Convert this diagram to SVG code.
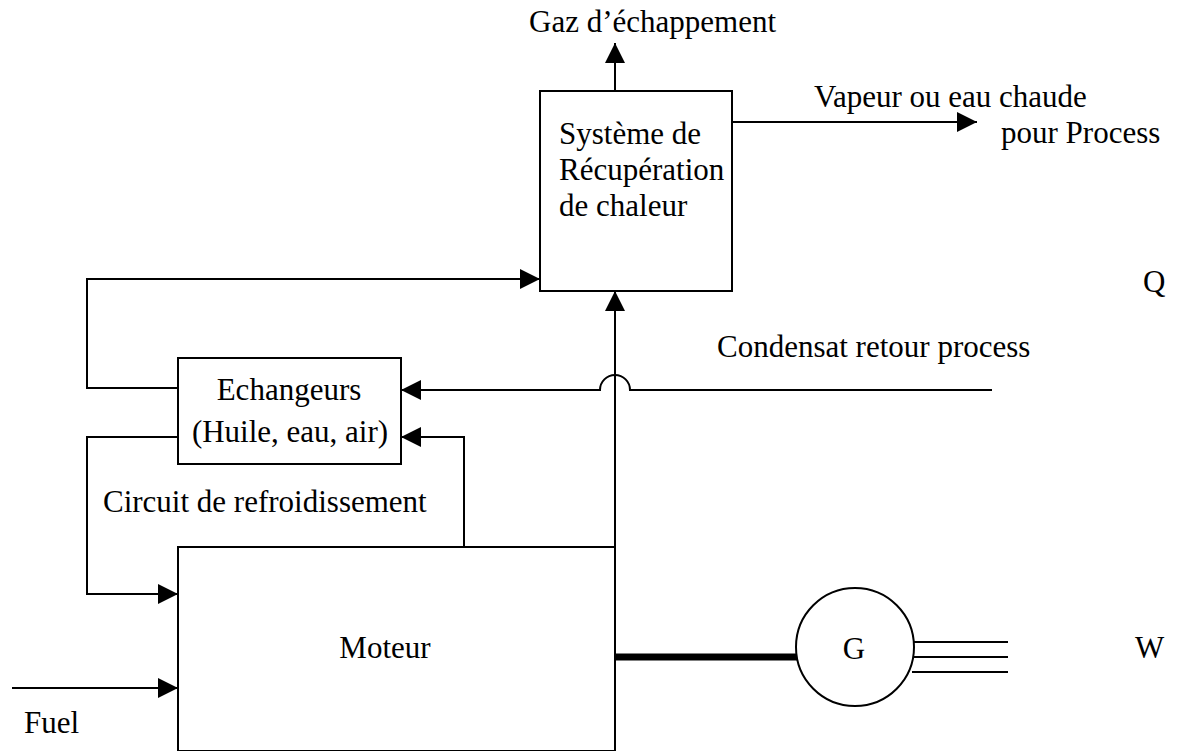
<svg xmlns="http://www.w3.org/2000/svg" width="1178" height="751" viewBox="0 0 1178 751">
<style>
text{font-family:"Liberation Serif","Times New Roman",serif;font-size:31px;fill:#000}
.box{fill:#fff;stroke:#000;stroke-width:2}
.ln{fill:none;stroke:#000;stroke-width:2}
.arr{marker-end:url(#ah)}
</style>
<defs>
<marker id="ah" markerUnits="userSpaceOnUse" markerWidth="20" markerHeight="20" refX="20" refY="10" orient="auto"><path d="M0,0 L20,10 L0,20 Z" fill="#000"/></marker>
</defs>
<rect width="1178" height="751" fill="#fff"/>
<g id="connectors">
<path class="ln arr" d="M615,91 V43"/>
<path class="ln arr" d="M732,122 H977"/>
<path class="ln arr" d="M178,388 H87 V279 H540"/>
<path class="ln arr" d="M178,437 H87 V594 H178"/>
<path class="ln arr" d="M992,390 H630 A15,15 0 0 0 600,390 H401"/>
<path class="ln arr" d="M464,547 V437 H401"/>
<path class="ln arr" d="M615,547 V291"/>
<path class="ln arr" d="M12,688 H178"/>
<path d="M615,657 H797" stroke="#000" stroke-width="7" fill="none"/>
<path class="ln" d="M914,642 H1008 M914,657 H1008 M912,672 H1008"/>
</g>
<g id="recovery">
<rect class="box" x="540" y="91" width="192" height="200"/>
<text x="559" y="144">Système de</text>
<text x="559" y="180">Récupération</text>
<text x="559" y="216">de chaleur</text>
</g>
<g id="echangeurs">
<rect class="box" x="178" y="358" width="223" height="106"/>
<text x="289" y="400" text-anchor="middle">Echangeurs</text>
<text x="290" y="442" text-anchor="middle">(Huile, eau, air)</text>
</g>
<g id="moteur">
<rect class="box" x="178" y="547" width="437" height="204"/>
<text x="385" y="658" text-anchor="middle">Moteur</text>
</g>
<g id="generator">
<circle class="box" cx="855" cy="647" r="59"/>
<text x="854" y="659" text-anchor="middle">G</text>
</g>
<g id="labels">
<text x="529" y="32">Gaz d’échappement</text>
<text x="814" y="107">Vapeur ou eau chaude</text>
<text x="1001" y="143">pour Process</text>
<text x="1143" y="292">Q</text>
<text x="717" y="357">Condensat retour process</text>
<text x="103" y="512">Circuit de refroidissement</text>
<text x="24" y="733">Fuel</text>
<text x="1135" y="658">W</text>
</g>
</svg>
